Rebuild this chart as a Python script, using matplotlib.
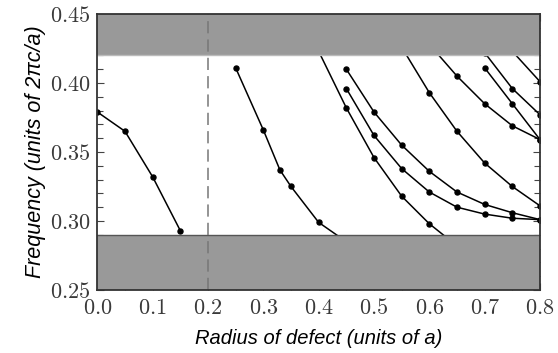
import matplotlib
matplotlib.use("Agg")
import matplotlib.pyplot as plt
from matplotlib.ticker import MultipleLocator, FuncFormatter

plt.rcParams['mathtext.fontset'] = 'cm'

# Data: defect-mode frequencies vs. defect radius
s1_x = [0.00, 0.05, 0.10, 0.15]
s1_y = [0.379, 0.365, 0.332, 0.293]

s2_x = [0.25, 0.30, 0.33, 0.35, 0.40, 0.45]
s2_y = [0.411, 0.366, 0.337, 0.325, 0.299, 0.285]

sA_x = [0.40, 0.45, 0.50, 0.55, 0.60, 0.65]
sA_y = [0.423, 0.382, 0.346, 0.318, 0.298, 0.282]

sB_x = [0.45, 0.50, 0.55, 0.60, 0.65, 0.70, 0.75, 0.80]
sB_y = [0.396, 0.362, 0.338, 0.321, 0.310, 0.305, 0.302, 0.301]

sC_x = [0.45, 0.50, 0.55, 0.60, 0.65, 0.70, 0.75, 0.80]
sC_y = [0.410, 0.379, 0.355, 0.336, 0.321, 0.312, 0.306, 0.301]

sD_x = [0.55, 0.60, 0.65, 0.70, 0.75, 0.80]
sD_y = [0.426, 0.393, 0.365, 0.342, 0.325, 0.311]

sE_x = [0.60, 0.65, 0.70, 0.75, 0.80]
sE_y = [0.428, 0.405, 0.385, 0.369, 0.359]

sF_x = [0.70, 0.75, 0.80]
sF_y = [0.411, 0.385, 0.359]

sG_x = [0.70, 0.75, 0.80]
sG_y = [0.422, 0.396, 0.377]

sH_x = [0.75, 0.80]
sH_y = [0.423, 0.401]

series = [(s1_x, s1_y), (s2_x, s2_y), (sA_x, sA_y), (sB_x, sB_y), (sC_x, sC_y),
          (sD_x, sD_y), (sE_x, sE_y), (sF_x, sF_y), (sG_x, sG_y), (sH_x, sH_y)]

gap_low = 0.29
gap_high = 0.42
defect_line = 0.2

fig = plt.figure(figsize=(5.58, 3.53), dpi=100)
ax = fig.add_axes([0.1744, 0.1785, 0.7933, 0.7818])

for xs, ys in series:
    ax.plot(xs, ys, color='black', lw=1.1, marker='o', ms=3.6, zorder=2, clip_on=True)

ax.axhspan(0.25, gap_low, color='#999999', zorder=3, lw=0)
ax.axhspan(gap_high, 0.45, color='#999999', zorder=3, lw=0)
ax.axhline(gap_low, color='#555555', lw=1.0, zorder=3.5)
ax.axhline(gap_high, color='#bbbbbb', lw=1.0, zorder=3.5)
ax.axvline(defect_line, color='#777777', lw=1.1, ls=(0, (8, 4)), zorder=4)

ax.set_xlim(0.0, 0.8)
ax.set_ylim(0.25, 0.45)
ax.xaxis.set_major_locator(MultipleLocator(0.1))
ax.xaxis.set_minor_locator(MultipleLocator(0.05))
ax.yaxis.set_major_locator(MultipleLocator(0.05))
ax.yaxis.set_minor_locator(MultipleLocator(0.01))
ax.tick_params(which='both', direction='in', top=True, right=True, color='#444444', width=0.8, zorder=5)
ax.tick_params(which='major', length=5)
ax.tick_params(which='minor', length=4)
ax.tick_params(axis='both', labelsize=16, labelcolor='#3a3a3a')
ax.tick_params(axis='x', pad=6)
ax.tick_params(axis='y', pad=5)
ax.xaxis.set_major_formatter(FuncFormatter(lambda v, p: r'$%.1f$' % v))
ax.yaxis.set_major_formatter(FuncFormatter(lambda v, p: r'$%.2f$' % v))
for sp in ax.spines.values():
    sp.set_color('#333333')
    sp.set_linewidth(1.3)
    sp.set_zorder(6)

ax.set_xlabel('Radius of defect (units of a)', family='Liberation Sans', style='italic',
              fontsize=14.5, labelpad=8)
ax.set_ylabel('Frequency (units of 2πc/a)', family='Liberation Sans', style='italic',
              fontsize=15.5, labelpad=3)

fig.savefig('out.png', dpi=100)
